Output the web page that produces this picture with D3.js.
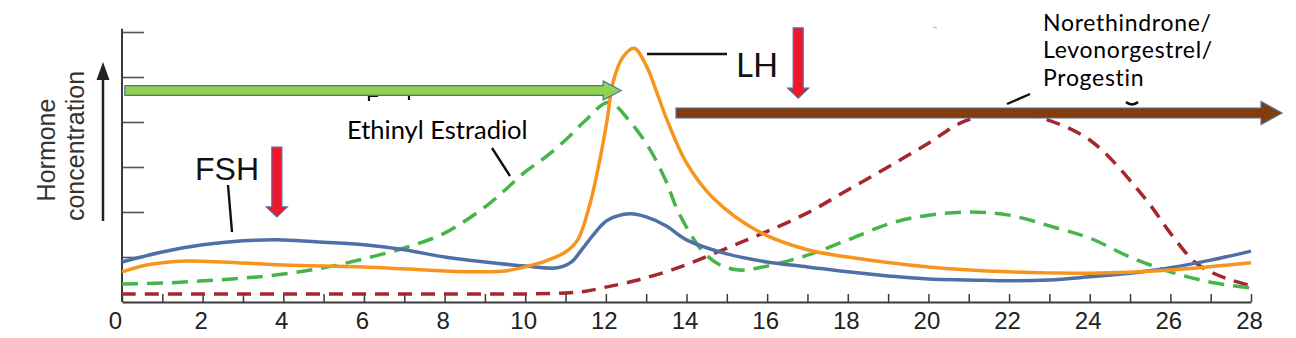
<!DOCTYPE html>
<html>
<head>
<meta charset="utf-8">
<script src="https://cdn.jsdelivr.net/npm/d3@7"></script>
<style>
  html, body { margin: 0; padding: 0; background: #fff; overflow: hidden; }
  svg { display: block; }
</style>
</head>
<body>
<svg id="chart" width="1296" height="338"></svg>
<script>
// Menstrual cycle hormone levels (relative units) by cycle day
const fshDays   = [0,1,2,3,4,5,6,7,8,9,10,10.8,11.15,11.4,11.75,12.05,12.6,13,13.5,14,15,16,17,18,19,20,21,22,23,24,25,26,27,28];
const fshLevels = [0.89,1.11,1.27,1.36,1.38,1.33,1.27,1.16,1.00,0.89,0.80,0.76,0.89,1.16,1.56,1.82,1.96,1.89,1.69,1.38,1.07,0.89,0.78,0.67,0.58,0.51,0.49,0.47,0.49,0.56,0.64,0.76,0.93,1.13];

const lhDays   = [0,0.5,1,1.6,2.5,4,6,8,9,9.5,10,10.5,11,11.3,11.6,11.85,12.03,12.18,12.42,12.7,13.02,13.27,13.52,14,14.66,15.8,17,18,20,22,24,26,28];
const lhLevels = [0.67,0.80,0.87,0.91,0.89,0.82,0.78,0.69,0.67,0.69,0.78,0.91,1.11,1.38,2.16,3.16,4.04,4.89,5.44,5.64,5.22,4.64,4.04,3.09,2.31,1.56,1.16,1.00,0.78,0.67,0.64,0.71,0.87];

const estradiolDays   = [0,1,2,3,4,5,6,7,8,9,9.5,10,10.5,11,11.5,12.07,12.57,13.06,13.48,13.8,14.37,14.8,15.3,15.9,17,18,19.1,20,21,22,23.2,24,25,26,27,28];
const estradiolLevels = [0.40,0.42,0.47,0.53,0.62,0.76,0.96,1.20,1.53,2.11,2.49,2.89,3.22,3.60,4.04,4.44,4.04,3.44,2.71,2.00,1.16,0.84,0.71,0.78,1.04,1.38,1.76,1.93,2.00,1.93,1.64,1.42,1.00,0.67,0.44,0.31];

const progesteroneDays   = [0,2,4,6,8,10,11,11.5,12,12.8,13.85,14.9,15.9,17,18,19,20,20.9,22,22.8,24,25.4,26,26.6,27,27.5,28];
const progesteroneLevels = [0.18,0.18,0.18,0.18,0.18,0.18,0.20,0.24,0.33,0.49,0.78,1.16,1.53,1.98,2.49,3.00,3.53,4.02,4.22,4.09,3.60,2.27,1.53,0.89,0.67,0.49,0.36];

const dayTicks   = d3.range(0, 29);
const dayLabels  = d3.range(0, 29, 2);
const levelTicks = [1, 2, 3, 4, 5, 6];

// Pill regimen bars and "suppressed" markers, in day / level units
const regimens = [
  { from: 0.07, to: 12.38, level: 4.70, fill: "#92D050" },   // estrogen phase
  { from: 13.74, to: 28.77, level: 4.20, fill: "#843C0C" }   // progestin phase
];
const suppressed = [
  { day: 3.84, top: 3.44, tip: 1.89 },    // FSH
  { day: 16.77, top: 6.09, tip: 4.53 }    // LH
];

const svg = d3.select("#chart");
const x = d3.scaleLinear().domain([0, 28]).range([122, 1251]);
const y = d3.scaleLinear().domain([0, 6]).range([302, 32]);

// ---- axes ----
const yAxis = svg.append("g").attr("transform", `translate(${x(0)},0)`)
  .call(d3.axisRight(y).tickValues(levelTicks).tickSize(22).tickFormat(""));
yAxis.select(".domain").remove();
yAxis.selectAll(".tick line").attr("stroke", "#555").attr("stroke-width", 1.6);
svg.append("line")
  .attr("x1", x(0)).attr("x2", x(0))
  .attr("y1", y(6.07)).attr("y2", y(0))
  .attr("stroke", "#3a3a3a").attr("stroke-width", 2);

const xTicks = svg.append("g").attr("transform", `translate(0,${y(0)})`)
  .call(d3.axisTop(x).tickValues(dayTicks).tickSize(8).tickSizeOuter(0).tickFormat(""));
xTicks.select(".domain").attr("stroke", "#3a3a3a").attr("stroke-width", 2);
xTicks.selectAll(".tick line").attr("stroke", "#3a3a3a").attr("stroke-width", 1.5);

const xLabels = svg.append("g").attr("transform", `translate(0,${y(0)})`)
  .call(d3.axisBottom(x).tickValues(dayLabels).tickSize(0).tickPadding(10).tickFormat(d3.format("d")));
xLabels.select(".domain").remove();
xLabels.selectAll(".tick text")
  .attr("font-family", "'Liberation Sans', Arial, sans-serif")
  .attr("font-size", 24)
  .attr("fill", "#222")
  .attr("dx", d => d === 0 ? -7 : -2);

// y axis title with upward arrow
const titleG = svg.append("g")
  .attr("font-family", "'Liberation Sans', Arial, sans-serif")
  .attr("font-size", 25).attr("fill", "#333").attr("text-anchor", "middle");
titleG.append("text").attr("transform", "translate(55,150) rotate(-90)").text("Hormone");
titleG.append("text").attr("transform", "translate(84,146) rotate(-90)").text("concentration");
svg.append("line").attr("x1", 103).attr("x2", 103).attr("y1", 221).attr("y2", 78)
  .attr("stroke", "#222").attr("stroke-width", 2.5);
svg.append("path").attr("d", "M103,62 L96.5,80 L109.5,80 Z").attr("fill", "#222");

// ---- hormone curves ----
const series = [
  { days: progesteroneDays, levels: progesteroneLevels, color: "#A6262E", dash: "14,9" },
  { days: estradiolDays,    levels: estradiolLevels,    color: "#45B549", dash: "16,9" },
  { days: fshDays,          levels: fshLevels,          color: "#4F70A6", dash: null },
  { days: lhDays,           levels: lhLevels,           color: "#F7941D", dash: null }
];
const line = d3.line()
  .x(d => x(d[0])).y(d => y(d[1]))
  .curve(d3.curveCatmullRom.alpha(0.5));

svg.append("g").selectAll("path").data(series).join("path")
  .attr("d", s => line(d3.zip(s.days, s.levels)))
  .attr("fill", "none")
  .attr("stroke", s => s.color)
  .attr("stroke-width", 3.5)
  .attr("stroke-dasharray", s => s.dash)
  .attr("stroke-linecap", "butt")
  .attr("stroke-linejoin", "round");

// ---- label fragments left over under the regimen bars ----
const frag = svg.append("g").attr("stroke", "#111").attr("fill", "none").attr("stroke-width", 2.2);
frag.append("path").attr("d", "M369,101 L369,96 L378,96");
frag.append("path").attr("d", "M409,95 L409,100");
frag.append("path").attr("d", "M1126,102 Q1132,107 1138,102").attr("stroke-width", 2.6);
svg.append("line").attr("x1", 933).attr("x2", 937).attr("y1", 27.5).attr("y2", 27.5)
  .attr("stroke", "#bbb").attr("stroke-width", 1.2);

// ---- regimen arrows ----
function hArrow(x0, x1, yc, h, H, L) {
  return `M${x0},${yc - h} L${x1 - L},${yc - h} L${x1 - L},${yc - H} L${x1},${yc} ` +
         `L${x1 - L},${yc + H} L${x1 - L},${yc + h} L${x0},${yc + h} Z`;
}
function vArrow(xc, y0, y1, w, W, L) {
  return `M${xc - w},${y0} L${xc + w},${y0} L${xc + w},${y1 - L} L${xc + W},${y1 - L} ` +
         `L${xc},${y1} L${xc - W},${y1 - L} L${xc - w},${y1 - L} Z`;
}
svg.append("g").selectAll("path").data(regimens).join("path")
  .attr("d", (r, i) => i === 0
    ? hArrow(x(r.from), x(r.to), y(r.level), 4.8, 9.5, 18)
    : hArrow(x(r.from), x(r.to), y(r.level), 5, 11.5, 21))
  .attr("fill", r => r.fill)
  .attr("stroke", "#4A6FA5").attr("stroke-width", 1.2);

svg.append("g").selectAll("path").data(suppressed).join("path")
  .attr("d", s => vArrow(x(s.day), y(s.top), y(s.tip), 5, 10.5, 10))
  .attr("fill", "#F2162B")
  .attr("stroke", "#4A6FA5").attr("stroke-width", 1.2);

// ---- annotations ----
const leaders = svg.append("g").attr("stroke", "#111").attr("stroke-width", 2.4);
leaders.append("line").attr("x1", 228).attr("y1", 185).attr("x2", 232).attr("y2", 232);
leaders.append("line").attr("x1", 492).attr("y1", 148).attr("x2", 510).attr("y2", 176);
leaders.append("line").attr("x1", 647).attr("y1", 54).attr("x2", 727).attr("y2", 54);
leaders.append("line").attr("x1", 1007).attr("y1", 104).attr("x2", 1030).attr("y2", 94);

svg.append("text").attr("x", 195).attr("y", 180)
  .attr("font-family", "'Liberation Sans', Arial, sans-serif").attr("font-size", 32)
  .attr("fill", "#111").text("FSH");

const calib = "Lato, 'Open Sans', sans-serif";
svg.append("text").attr("x", 736).attr("y", 77)
  .attr("font-family", calib).attr("font-size", 33).attr("fill", "#111").text("LH");
svg.append("text").attr("x", 347).attr("y", 139)
  .attr("font-family", calib).attr("font-size", 25.5).attr("fill", "#000").text("Ethinyl Estradiol");

// Progestin label, one text element per line
["Norethindrone/", "Levonorgestrel/", "Progestin"].forEach((t, i) => {
  svg.append("text")
    .attr("x", 1043).attr("y", 30.5 + i * 27.7)
    .attr("font-family", calib).attr("font-size", 23).attr("letter-spacing", 0.7)
    .attr("fill", "#000").text(t);
});
</script>
</body>
</html>
